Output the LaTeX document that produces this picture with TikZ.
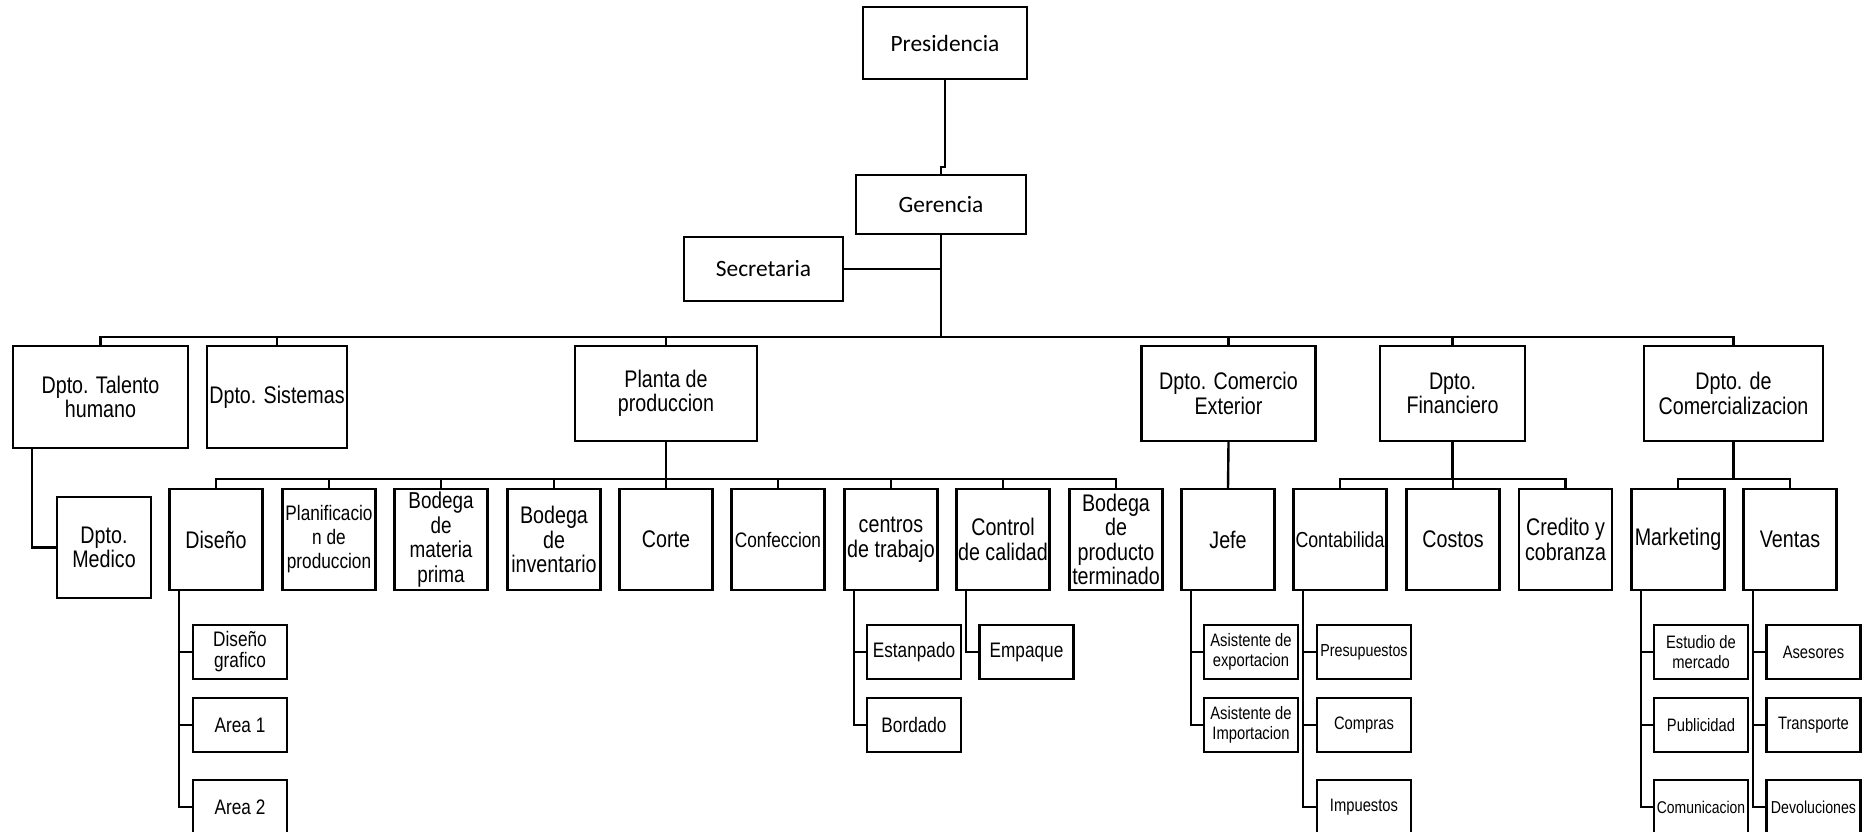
\documentclass[tikz,border=0pt]{standalone}
\usepackage{fontspec}
\setmainfont{Liberation Sans}[FakeStretch=0.82]
\newfontfamily\calfont{Carlito}
\tikzset{
  box/.style={draw, line width=2.4pt, fill=white, inner sep=0pt, align=center},
  topbox/.style={box, line width=2.2pt, font=\calfont\fontsize{23.4}{25}\selectfont},
  lvone/.style={box, minimum height=95pt, font=\fontsize{24}{24.5}\selectfont},
  lvtwo/.style={box, minimum width=93pt, minimum height=101pt, font=\fontsize{24}{24.5}\selectfont},
  lvthree/.style={box, minimum width=94pt, minimum height=54pt, font=\fontsize{18}{20}\selectfont},
  lvthreeb/.style={lvthree, font=\fontsize{21}{21}\selectfont},
  bus/.style={line width=2.4pt},
  thinline/.style={line width=1.8pt}
}
\begin{document}
\begin{tikzpicture}[x=1pt,y=-1pt]
\useasboundingbox[fill=white] (0,0) rectangle (1868,832);
% top level
\node[topbox, minimum width=164pt, minimum height=72pt] (pres) at (945,43) {Presidencia};
\node[topbox, minimum width=170pt, minimum height=59pt] (ger) at (941,204.5) {Gerencia};
\node[topbox, minimum width=159pt, minimum height=64pt] (sec) at (763.5,269) {Secretaria};
\coordinate (hub) at (941,337);
% level 1
\node[lvone, minimum width=175pt, minimum height=102pt] (talento) at (100.5,397) {Dpto. Talento\\humano};
\node[lvone, minimum width=140pt, minimum height=102pt] (sistemas) at (277,397) {Dpto. Sistemas};
\node[lvone, minimum width=182pt] (planta) at (666,393.5) {Planta de\\produccion};
\node[lvone, minimum width=174pt] (comercio) at (1228.5,393.5) {Dpto. Comercio\\Exterior};
\node[lvone, minimum width=145pt] (financiero) at (1452.5,393.5) {Dpto.\\Financiero};
\node[lvone, minimum width=179pt] (comerc) at (1733.5,393.5) {Dpto. de\\Comercializacion};
\coordinate (pbus) at (666,479);
\coordinate (fbus) at (1452.5,479);
\coordinate (cbus) at (1733.5,479);
% level 2
\node[lvtwo, minimum width=94pt] (medico) at (104,547.5) {Dpto.\\Medico};
\node[lvtwo] (diseno) at (216,539.5) {Diseño};
\node[lvtwo, font=\fontsize{21}{24}\selectfont] (planif) at (329,539.5) {Planificacio\\n de\\produccion};
\node[lvtwo, font=\fontsize{23}{24.5}\selectfont] (bmat) at (441,539.5) {Bodega\\de\\materia\\prima};
\node[lvtwo] (binv) at (554,539.5) {Bodega\\de\\inventario};
\node[lvtwo] (corte) at (666,539.5) {Corte};
\node[lvtwo, font=\fontsize{21}{24}\selectfont] (confec) at (778,539.5) {Confeccion};
\node[lvtwo] (centros) at (891,539.5) {centros\\de trabajo};
\node[lvtwo] (control) at (1003,539.5) {Control\\de calidad};
\node[lvtwo] (bprod) at (1116,539.5) {Bodega\\de\\producto\\terminado};
\node[lvtwo] (jefe) at (1228,539.5) {Jefe};
\node[lvtwo, font=\fontsize{21.7}{24}\selectfont] (contab) at (1340,539.5) {Contabilida};
\node[lvtwo] (costos) at (1453,539.5) {Costos};
\node[lvtwo] (credito) at (1565.5,539.5) {Credito y\\cobranza};
\node[lvtwo] (marketing) at (1678,539.5) {Marketing};
\node[lvtwo] (ventas) at (1790,539.5) {Ventas};
% level 3
\node[lvthreeb] (dg) at (240,652) {Diseño\\grafico};
\node[lvthreeb] (a1) at (240,725) {Area 1};
\node[lvthreeb] (a2) at (240,807) {Area 2};
\node[lvthreeb] (estan) at (914,652) {Estanpado};
\node[lvthreeb] (bord) at (914,725) {Bordado};
\node[lvthreeb] (empaq) at (1026.5,652) {Empaque};
\node[lvthree] (aexp) at (1251,652) {Asistente de\\exportacion};
\node[lvthree] (aimp) at (1251,725) {Asistente de\\Importacion};
\node[lvthree, font=\fontsize{17.4}{20}\selectfont] (presu) at (1364,652) {Presupuestos};
\node[lvthree] (compras) at (1364,725) {Compras};
\node[lvthree] (impu) at (1364,807) {Impuestos};
\node[lvthree] (estud) at (1701,652) {Estudio de\\mercado};
\node[lvthree] (publi) at (1701,725) {Publicidad};
\node[lvthree, font=\fontsize{17}{20}\selectfont] (comun) at (1701,807) {Comunicacion};
\node[lvthree] (ases) at (1813.5,652) {Asesores};
\node[lvthree] (transp) at (1813.5,725) {Transporte};
\node[lvthree, font=\fontsize{17.3}{20}\selectfont] (devol) at (1813.5,807) {Devoluciones};
% connectors
\draw[thinline] (pres.south) -- ++(0,87) -| (ger.north);
\draw[thinline] (sec.east) -- (sec.east -| ger.south);
\draw[bus] (ger.south) -- (hub);
\foreach \n in {talento,sistemas,planta,comercio,financiero,comerc}
  \draw[bus] (\n.north) |- (hub);
\draw[bus] (planta.south) -- (pbus);
\foreach \n in {diseno,planif,bmat,binv,corte,confec,centros,control,bprod}
  \draw[bus] (\n.north) |- (pbus);
\draw[bus] (comercio.south) -- (jefe.north);
\draw[bus] (financiero.south) -- (fbus);
\foreach \n in {contab,costos,credito}
  \draw[bus] (\n.north) |- (fbus);
\draw[bus] (comerc.south) -- (cbus);
\foreach \n in {marketing,ventas}
  \draw[bus] (\n.north) |- (cbus);
\draw[bus] ([xshift=-68.5pt]talento.south) |- (medico.west);
\foreach \p/\c in {diseno/dg,diseno/a1,diseno/a2,centros/estan,centros/bord,control/empaq,
  jefe/aexp,jefe/aimp,contab/presu,contab/compras,contab/impu,
  marketing/estud,marketing/publi,marketing/comun,ventas/ases,ventas/transp,ventas/devol}
  \draw[bus] ([xshift=-37pt]\p.south) |- (\c.west);
\end{tikzpicture}
\end{document}
